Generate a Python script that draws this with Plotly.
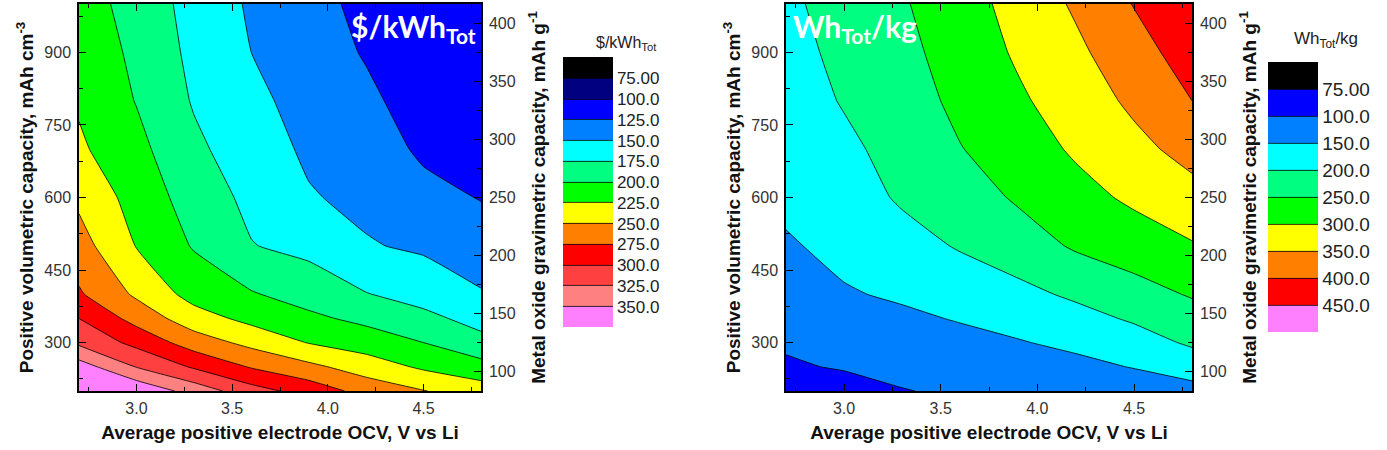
import numpy as np
import plotly.graph_objects as go

W, H = 1387, 450

# ---------------- data ----------------
ocv = [2.7, 3.0, 3.3, 3.6, 3.9, 4.2, 4.5, 4.8]                      # V vs Li
vol_cap = [200, 250, 300, 350, 400, 500, 600, 700, 800, 900, 1000]   # mAh cm^-3

# $/kWh_Tot  (rows = vol_cap, cols = ocv)
cost = [
    [400, 370, 340, 310, 290, 266, 251, 237],
    [362, 324, 297, 273, 256, 238, 221, 209],
    [320, 293, 263, 243, 224, 213, 200, 182],
    [300, 266, 236, 218, 205, 194, 181, 167],
    [278, 246, 216, 202, 190, 176, 166, 152],
    [260, 224, 198, 176, 168, 152, 146, 136],
    [245, 215, 189, 169, 152, 144, 132, 124],
    [229, 207, 180, 162, 146, 137, 121, 115],
    [222, 199, 173, 156, 141, 130, 114, 108],
    [216, 195, 169, 150, 137, 123, 109, 104],
    [211, 191, 166, 147, 134, 118, 105, 102],
]

# Wh_Tot/kg
energy = [
    [87, 90, 99, 107, 114, 118, 124, 134],
    [97, 104, 113, 120, 129, 138, 152, 172],
    [106, 118, 128, 137, 147, 160, 179, 207],
    [116, 132, 142, 153, 166, 184, 206, 231],
    [126, 146, 156, 171, 187, 208, 232, 254],
    [145, 162, 182, 204, 226, 256, 274, 296],
    [160, 177, 206, 226, 256, 283, 309, 333],
    [171, 191, 215, 248, 275, 307, 336, 367],
    [179, 203, 226, 262, 293, 323, 360, 400],
    [186, 210, 236, 272, 306, 340, 381, 422],
    [192, 216, 245, 280, 316, 357, 402, 440],
]

cost_levels = [75, 100, 125, 150, 175, 200, 225, 250, 275, 300, 325, 350]
cost_labels = ["75.00", "100.0", "125.0", "150.0", "175.0", "200.0", "225.0",
               "250.0", "275.0", "300.0", "325.0", "350.0"]
cost_colors = ["#000000", "#000080", "#0000ff", "#0080ff", "#00ffff", "#00ff80",
               "#00ff00", "#ffff00", "#ff8000", "#ff0000", "#ff4040", "#ff8080",
               "#ff80ff"]

energy_levels = [75, 100, 150, 200, 250, 300, 350, 400, 450]
energy_labels = ["75.00", "100.0", "150.0", "200.0", "250.0", "300.0", "350.0",
                 "400.0", "450.0"]
energy_colors = ["#000000", "#0000ff", "#0080ff", "#00ffff", "#00ff80", "#00ff00",
                 "#ffff00", "#ff8000", "#ff0000", "#ff80ff"]

x_ticks = [3.0, 3.5, 4.0, 4.5]
y_ticks = [300, 450, 600, 750, 900]
y2_ticks = [100, 150, 200, 250, 300, 350, 400]
VOL_PER_GRAV = 2.4   # mAh cm^-3 per mAh g^-1 (right-axis conversion)

# -------------- helpers --------------
def to_level_index(z, levels):
    """Map values onto level-index space (piecewise linear, extrapolated)."""
    lv = np.asarray(levels, float)
    idx = np.arange(len(lv), dtype=float)
    lv_ext = np.concatenate([[lv[0] - 100 * (lv[1] - lv[0])], lv,
                             [lv[-1] + 100 * (lv[-1] - lv[-2])]])
    idx_ext = np.concatenate([[-100.0], idx, [idx[-1] + 100.0]])
    return np.interp(np.asarray(z, float), lv_ext, idx_ext)

def scale(colors):
    n = len(colors) - 1
    return [[i / n, c] for i, c in enumerate(colors)]

FONT = "Liberation Sans, Arial, sans-serif"
TICKFONT = dict(family=FONT, size=16, color="#333333")
TITLEFONT = dict(family=FONT, size=19, color="#111111", weight="bold")

def contour(z, levels, labels, colors, xa, ya, cb_x, cb_y, cb_len, cb_font):
    n = len(levels)
    # negated index so that the colour bar reads low (black) at top
    zz = -to_level_index(z, levels)
    return go.Contour(
        x=ocv, y=vol_cap, z=zz,
        xaxis=xa, yaxis=ya,
        colorscale=scale(colors[::-1]), zmin=-n, zmax=1,
        contours=dict(start=-(n - 1), end=0, size=1, coloring="fill", showlines=True),
        line=dict(color="black", width=0.8, smoothing=0.4),
        hoverinfo="skip",
        colorbar=dict(
            x=cb_x, xanchor="left", y=cb_y, yanchor="middle",
            len=cb_len, lenmode="pixels", thickness=50, thicknessmode="pixels",
            xpad=0, ypad=0, outlinewidth=0, ticks="",
            tickvals=[-k for k in range(n)], ticktext=labels,
            tickfont=dict(family=FONT, size=cb_font, color="#222222"),
        ),
    )

fig = go.Figure()
fig.add_trace(contour(cost, cost_levels, cost_labels, cost_colors, "x", "y",
                      563 / W, 1 - 192.5 / H, 270, 17))
fig.add_trace(contour(energy, energy_levels, energy_labels, energy_colors, "x2", "y2",
                      1268 / W, 1 - 197 / H, 270, 19))

# invisible companions so the right-hand (gravimetric) axes are drawn
grav = [v / VOL_PER_GRAV for v in vol_cap]
for xa, ya in (("x", "y3"), ("x2", "y4")):
    fig.add_trace(go.Scatter(x=[ocv[0]] * len(grav), y=grav, xaxis=xa, yaxis=ya,
                             mode="lines", line=dict(width=0), opacity=0,
                             hoverinfo="skip", showlegend=False))

ydom = [1 - 391 / H, 1 - 4 / H]

def xax(domain, anchor):
    return dict(domain=domain, anchor=anchor, range=[2.7, 4.8],
                tickvals=x_ticks, tickformat=".1f", ticks="inside", ticklen=7,
                tickwidth=1.2, tickcolor="black", minor=dict(dtick=0.25, ticks="inside",
                ticklen=4, tickcolor="black"),
                showline=True, linewidth=1.5, linecolor="black", mirror="ticks",
                showgrid=False, zeroline=False, tickfont=TICKFONT, automargin=False,
                ticklabelstandoff=2,
                title=dict(text="Average positive electrode OCV, V vs Li",
                           font=TITLEFONT, standoff=10))

def yax(domain, anchor):
    return dict(domain=domain, anchor=anchor, range=[200, 1000],
                tickvals=y_ticks, ticks="inside", ticklen=7, tickwidth=1.2,
                tickcolor="black", minor=dict(dtick=75, ticks="inside", ticklen=4,
                tickcolor="black"),
                showline=True, linewidth=1.5, linecolor="black", mirror=False,
                showgrid=False, zeroline=False, tickfont=TICKFONT, automargin=False,
                ticklabelstandoff=3,
                title=dict(text="Positive volumetric capacity, mAh cm<sup>-3</sup>",
                           font=TITLEFONT, standoff=6))

def y2ax(over, anchor):
    return dict(overlaying=over, anchor=anchor, side="right",
                range=[grav[0], grav[-1]],
                tickvals=y2_ticks, ticks="inside", ticklen=7, tickwidth=1.2,
                tickcolor="black", minor=dict(dtick=25, ticks="inside", ticklen=4,
                tickcolor="black"),
                showline=True, linewidth=1.5, linecolor="black",
                showgrid=False, zeroline=False, tickfont=TICKFONT, automargin=False,
                ticklabelstandoff=3,
                title=dict(text="Metal oxide gravimetric capacity, mAh g<sup>-1</sup>",
                           font=TITLEFONT, standoff=17))

fig.update_layout(
    width=W, height=H, margin=dict(l=0, r=0, t=0, b=0),
    paper_bgcolor="white", plot_bgcolor="white", showlegend=False,
    xaxis=xax([79 / W, 481 / W], "y"),
    yaxis=yax(ydom, "x"),
    xaxis2=xax([786 / W, 1192 / W], "y2"),
    yaxis2=yax(ydom, "x2"),
    yaxis3=y2ax("y", "x"),
    yaxis4=y2ax("y2", "x2"),
)

ann = [
    dict(text="$/kWh<sub>Tot</sub>", x=478 / W, y=1 - 6 / H, xanchor="right",
         yanchor="top", font=dict(family="Lato, sans-serif", size=30, color="white",
                                  weight="bold")),
    dict(text="Wh<sub>Tot</sub>/kg", x=791 / W, y=1 - 6 / H, xanchor="left",
         yanchor="top", font=dict(family="Lato, sans-serif", size=30, color="white",
                                  weight="bold")),
    dict(text="$/kWh<sub>Tot</sub>", x=594 / W, y=1 - 43 / H, xanchor="left",
         yanchor="middle", font=dict(family=FONT, size=16, color="#222222")),
    dict(text="Wh<sub>Tot</sub>/kg", x=1292 / W, y=1 - 40 / H, xanchor="left",
         yanchor="middle", font=dict(family=FONT, size=17, color="#222222")),
]
for a in ann:
    a.update(xref="paper", yref="paper", showarrow=False)
fig.update_layout(annotations=ann)

fig.write_html("out.html")
